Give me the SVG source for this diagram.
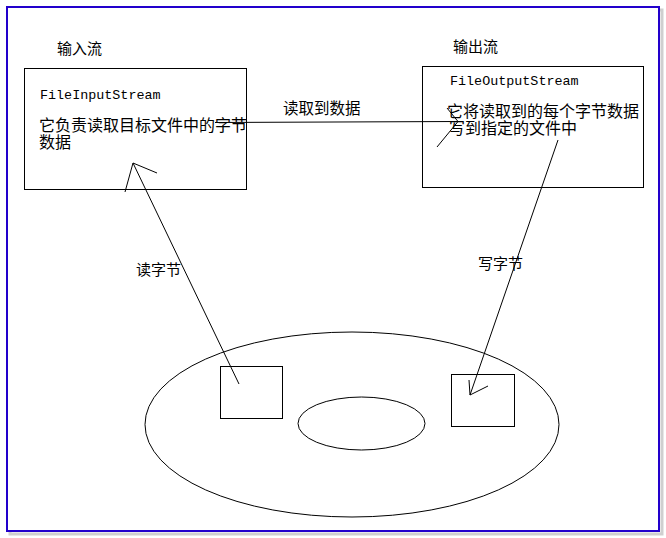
<svg xmlns="http://www.w3.org/2000/svg" width="666" height="538" viewBox="0 0 666 538">
<style>
.shape{fill:none;stroke:#000;stroke-width:1}
.cn{font-family:"Noto Sans CJK SC","Liberation Sans",sans-serif;fill:#000}
.mono{font-family:"Liberation Mono",monospace;font-size:13.4px;fill:#000}
.conn line{stroke:#000;stroke-width:1}
</style>
<rect x="0" y="0" width="666" height="538" fill="#fff"/>
<g id="frame">
<rect x="10" y="10" width="652" height="524" fill="none" stroke="#cfcfcf" stroke-width="3"/>
<rect x="7" y="7" width="652" height="524" fill="#fff" stroke="#2200cc" stroke-width="2"/>
</g>
<text class="cn" x="57" y="54" font-size="15">输入流</text>
<text class="cn" x="453" y="52" font-size="15">输出流</text>
<g id="input">
<rect class="shape" x="24.5" y="68.5" width="222" height="121"/>
<text class="mono" x="40" y="99">FileInputStream</text>
<text class="cn" x="39" y="131" font-size="16">它负责读取目标文件中的字节</text>
<text class="cn" x="39" y="148" font-size="16">数据</text>
</g>
<g id="output">
<rect class="shape" x="422.5" y="66.5" width="221" height="121"/>
<text class="mono" x="450" y="85">FileOutputStream</text>
<text class="cn" x="447" y="117" font-size="16">它将读取到的每个字节数据</text>
<text class="cn" x="449" y="134" font-size="16">写到指定的文件中</text>
</g>
<g id="disk">
<ellipse class="shape" cx="352" cy="424.5" rx="207" ry="92.5"/>
<ellipse class="shape" cx="361.5" cy="423.5" rx="63.5" ry="26.5"/>
</g>
<g id="block-read"><rect class="shape" x="220.5" y="366.5" width="62" height="52"/></g>
<g id="block-write"><rect class="shape" x="451.5" y="374.5" width="63" height="52"/></g>
<g class="conn" id="connectors">
<line x1="215" y1="122.5" x2="458" y2="121.5"/>
<line x1="458" y1="121.5" x2="437" y2="147"/>
<line x1="458" y1="121.5" x2="447" y2="108"/>
<line x1="239" y1="384" x2="133" y2="163"/>
<line x1="133" y1="163" x2="125" y2="192"/>
<line x1="133" y1="163" x2="157" y2="173"/>
<line x1="558" y1="140" x2="470" y2="395"/>
<line x1="470" y1="395" x2="469" y2="380"/>
<line x1="470" y1="395" x2="488" y2="386"/>
</g>
<text class="cn" x="283" y="114" font-size="15.5">读取到数据</text>
<text class="cn" x="136" y="275" font-size="15">读字节</text>
<text class="cn" x="478" y="269" font-size="15">写字节</text>
</svg>
